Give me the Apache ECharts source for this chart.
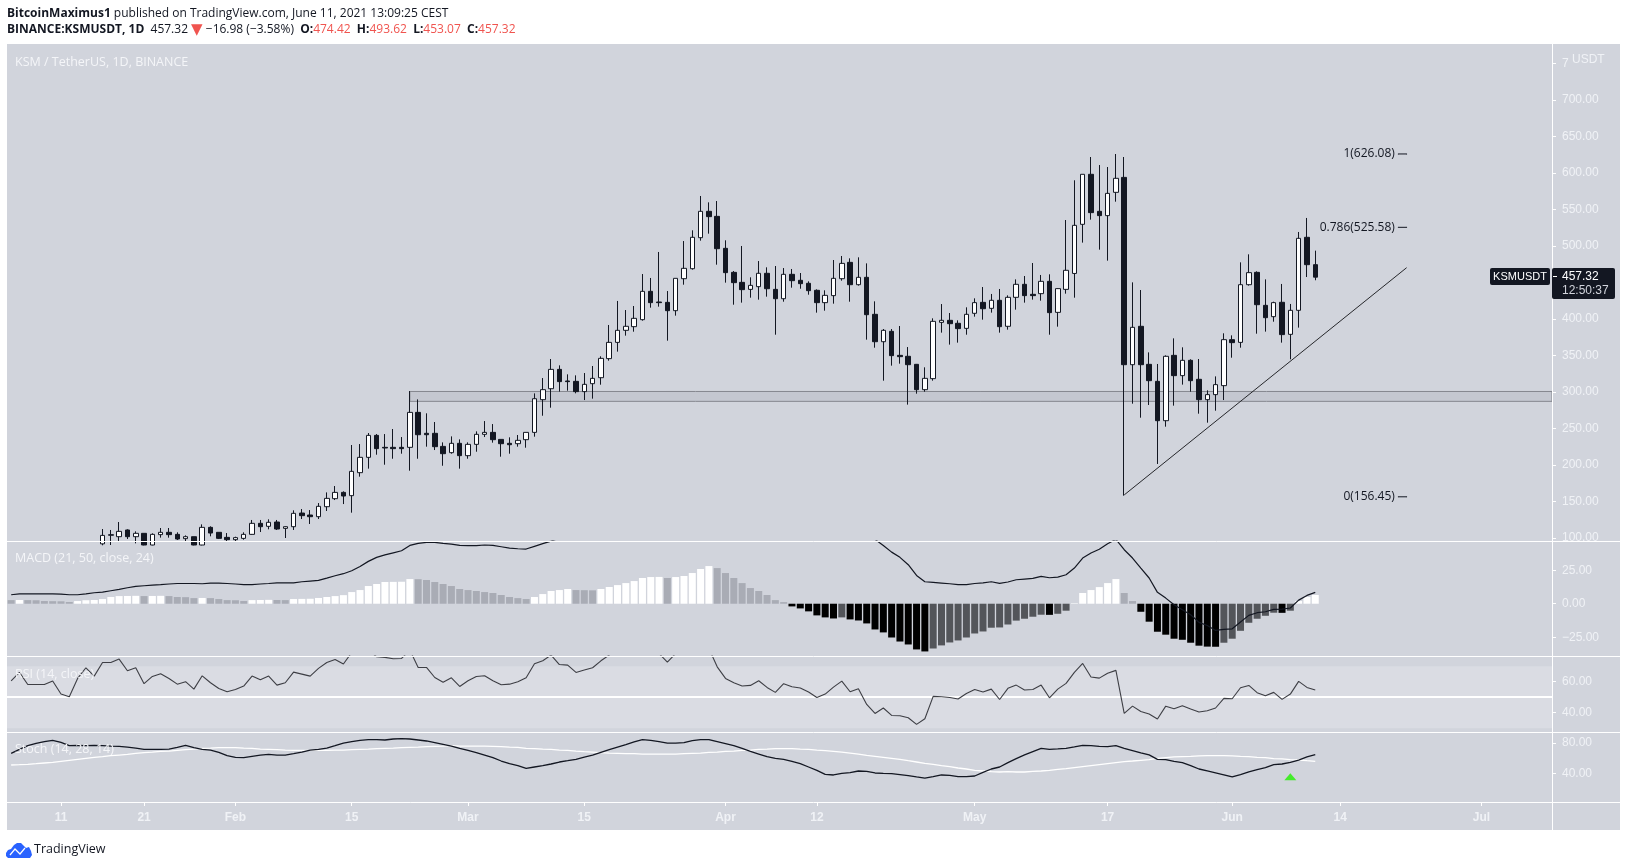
<!DOCTYPE html>
<html>
<head>
<meta charset="utf-8">
<title>KSMUSDT</title>
<script src="https://cdn.jsdelivr.net/npm/echarts@6/dist/echarts.min.js"></script>
<style>
html, body { margin: 0; padding: 0; background: #fff; }
#chart { width: 1627px; height: 867px; }
</style>
</head>
<body>
<div id="chart"></div>
<script>
'use strict';

// first day on the time scale, and how many days it shows
var startDay = '2021-01-05';
var dayCount = 186;

var tickDays = [6, 16, 27, 41, 55, 69, 86, 97, 116, 132, 147, 160, 177];
var tickNames = ['11', '21', 'Feb', '15', 'Mar', '15', 'Apr', '12', 'May', '17', 'Jun', '14', 'Jul'];

var priceTicks = [100, 150, 200, 250, 300, 350, 400, 450, 500, 550, 600, 650, 700, 750];
var macdTicks = [-25, 0, 25];
var rsiTicks = [40, 60];
var stochTicks = [40, 80];

// candles before this day sit under the bottom of the price pane
var firstCandleDay = 11;

var opens = [
    92, 103.7, 101.8, 111, 101.8, 106.4, 90.4, 104.6, 107.8, 105,
    99.1, 101.8, 90.4, 114.6, 107.8, 100.9, 97.7, 99.5, 105, 120.1,
    116, 121.9, 113.2, 115.5, 134.2, 131.5, 129.2, 142.9, 153.9, 162.5,
    158, 189.5, 210.5, 240.6, 224.2, 224.2, 224.2, 224.2, 272.1, 243.4,
    243.4, 225.5, 216.9, 229.7, 212.8, 228.3, 242, 244.7, 235.1, 229.7,
    229.2, 234.7, 244.7, 289.5, 304.5, 331, 315.1, 314.6, 300.5, 311.4,
    319.6, 345.7, 368, 384.5, 389.5, 399.1, 437.9, 423.3, 422.8, 411.4,
    455.2, 468.9, 511.4, 547.5, 540.6, 496.8, 463.9, 450.2, 440.6, 444.3,
    462.6, 440.6, 427.8, 461.2, 453, 448.9, 439.3, 422.4, 432, 455.2,
    477.6, 447, 457.1, 406.4, 368.9, 383.1, 350.2, 348.9, 337.9, 303.2,
    318.3, 395.4, 398.2, 394.1, 387.2, 407.8, 422.8, 414.6, 425.6, 390,
    429.7, 447.5, 433.8, 434.7, 451.6, 409.1, 440.6, 462.4, 529.7, 598.2,
    547.5, 541.6, 573.5, 594, 337.4, 390, 337.9, 314.6, 260.7, 350.2,
    322.4, 343.4, 317.4, 289.5, 296.4, 308.7, 371.7, 368, 447, 463.9,
    418.7, 403.2, 422.9, 379, 411.9, 511.9, 474.42
];
var closes = [
    103.6, 104.6, 109.1, 101.8, 106.4, 90.4, 105, 107.8, 104.6, 98.6,
    101.8, 90.4, 114.6, 106.8, 99.5, 97.7, 100.5, 105, 120.1, 115.5,
    121.5, 112.3, 115.5, 133.8, 130.6, 129.2, 143.4, 154.3, 162.5, 157.5,
    191.3, 210.5, 240.6, 222.4, 223.3, 222.4, 222.4, 272.1, 241.5, 241.5,
    225.1, 215.5, 229.7, 212.8, 228.3, 242, 244.7, 234.7, 229.2, 227.8,
    233.8, 244.7, 290.8, 303.2, 331, 314.2, 314.2, 300.5, 310.5, 318.7,
    346.1, 368, 384.5, 390, 400.9, 437.9, 422.4, 422.4, 411.4, 455.7,
    469.4, 511.9, 547.5, 540.2, 496.3, 463.5, 449.8, 440.2, 446.1, 462.6,
    441.5, 427.8, 461.2, 452.5, 448.4, 438.8, 422.4, 432.4, 455.7, 476.2,
    447, 457.1, 405.9, 368.9, 384.5, 349.8, 348.4, 337.4, 303.2, 318.7,
    396.8, 398.2, 393.6, 386.8, 406.4, 422.4, 414.1, 425.6, 389.5, 429.7,
    447.5, 432, 432, 451.6, 408.7, 441.6, 466.7, 528.3, 598.2, 545.7,
    541.6, 572.1, 592.7, 337.4, 388.6, 337.4, 315.5, 260.7, 348.9, 322.4,
    343.4, 315.5, 289.5, 296.4, 310.1, 371.7, 367.6, 447, 463.5, 419.6,
    401.8, 422.4, 378.6, 411.9, 510.5, 474.4, 457.32
];
var lows = [
    90, 90.4, 96, 98.6, 92.7, 90, 90, 100.5, 100.5, 97.3,
    95, 90, 90, 102.3, 98.6, 95, 95, 97.7, 104.6, 108.2,
    111.9, 111, 100, 111, 126, 119.2, 126, 137, 152, 146.5,
    134.7, 184, 195, 214.1, 200.4, 208.6, 215.5, 192.2, 208.6, 225.1,
    220.5, 199, 215.5, 195, 208.6, 218.2, 238.3, 230.6, 211.4, 215.5,
    225.1, 223.7, 238.8, 267.5, 278.5, 300.5, 301.8, 298.2, 289, 290.9,
    310, 342.9, 355.3, 377.2, 382.6, 397.7, 415.5, 416.9, 370.3, 404.6,
    447, 467.6, 507.3, 516.9, 474.4, 449.8, 419.6, 422.4, 429.2, 426.5,
    430.6, 378.5, 423.7, 442.9, 441.5, 433.3, 408.7, 411.4, 421, 452.5,
    423.7, 445.7, 371.7, 360.7, 315.5, 336.1, 338.8, 282.7, 297.7, 300.4,
    315.5, 381.3, 364.9, 367.6, 378.5, 403.2, 399.1, 408.7, 381.3, 385.4,
    412.8, 422.4, 426.5, 425.1, 378.5, 389.5, 434.7, 429.2, 504.6, 536.1,
    495, 479.9, 560.7, 158, 284, 264.8, 282.2, 201.4, 252.5, 281.3,
    310.1, 300.4, 270.3, 258, 274.4, 289, 347, 360.7, 445.7, 379.9,
    382.7, 396.3, 367.6, 344.8, 388.2, 457.5, 453.07
];
var highs = [
    112.3, 111, 121.9, 111.9, 109.1, 106.4, 106.4, 113.7, 113.7, 107.8,
    103.6, 101.8, 118.7, 116, 107.8, 106.8, 101.8, 107.8, 124.7, 124.7,
    125.6, 124.7, 116, 137.9, 139.7, 138.3, 147.9, 162.5, 171.2, 163.9,
    227.4, 228.7, 243.8, 242.4, 242.4, 249.3, 238.3, 301.3, 289.9, 270.8,
    258.9, 231, 239.2, 235.1, 231, 246.1, 260.2, 256.1, 235.1, 237.9,
    241.1, 244.7, 298.1, 319.1, 345.2, 336.5, 324.2, 322.8, 326, 335.6,
    348.9, 391.8, 424.7, 412.3, 417.8, 461.6, 456.2, 491.8, 438.3, 455.7,
    506.8, 521.5, 568.5, 559.8, 561.6, 507.8, 465.7, 500, 457.1, 479.4,
    470.8, 472.6, 469.8, 468.5, 463, 451.6, 440.6, 439.3, 480.8, 486.3,
    483.1, 484.5, 476.2, 424.2, 386.3, 386.3, 390.4, 361.6, 338.4, 333.8,
    400.9, 420.5, 408.2, 398.2, 416, 428.3, 443.8, 434.3, 441.1, 432.4,
    454.3, 458.9, 476.7, 460.3, 461.2, 442, 535.6, 590, 598.2, 621.9,
    610.9, 608.2, 626, 621.9, 450.2, 439.7, 354.3, 338.4, 350.2, 373.5,
    361.2, 344.8, 345.2, 302.3, 321.4, 380.4, 377.6, 477.6, 488.6, 465.3,
    454.3, 423.7, 448, 420.6, 519.2, 538.4, 493.62
];

var macdHist = [
    2.7, 2.8, 2.7, 2.6, 2.0, 1.9, 1.8, 1.3, 2.0, 2.6,
    2.8, 3.5, 5.0, 5.7, 5.8, 5.9, 5.7, 5.8, 5.9, 5.7,
    5.0, 4.9, 4.2, 4.3, 4.2, 3.5, 2.7, 2.6, 2.0, 2.7,
    2.8, 2.9, 2.8, 2.7, 3.5, 3.6, 3.7, 4.3, 5.0, 5.7,
    6.4, 8.7, 10.2, 13.2, 14.7, 16.2, 16.3, 16.4, 18.4, 18.3,
    17.7, 16.2, 14.7, 13.2, 11, 10.2, 9.5, 8.7, 8, 6.5,
    5, 4.2, 3.5, 5, 7.2, 9.5, 10.2, 11, 10.2, 10.1,
    10, 11, 12.5, 13.9, 15.4, 16.9, 19.2, 19.9, 20, 19.2,
    19.9, 20.7, 22.9, 25.9, 28.1, 26.6, 22.9, 19.2, 15.4, 11.7,
    9.5, 6.5, 2.7, 1.2, -2, -3.5, -5.7, -8.7, -10.2, -11,
    -10.2, -11.7, -12.5, -14.7, -19.2, -21.4, -25.2, -28.2, -30.4, -34.1,
    -35.6, -33.4, -31.1, -28.9, -27.4, -25.2, -22.2, -20.7, -17.9, -17.7,
    -15.5, -12.6, -11.2, -9.7, -8.2, -8.3, -7.5, -5.2, 0.4, 8,
    10.2, 12.4, 15.4, 18.4, 8, 2, -6, -13.4, -20.9, -23.1,
    -26.1, -26.9, -29.1, -31.3, -32, -32.1, -29.1, -26.1, -20.2, -14.2,
    -11.2, -9, -6.7, -6.8, -5.2, 2, 5, 6.5
];
// the stretch from about day 66 to day 104 runs off the top of the pane
var macdLine = [
    6.7, 7.4, 7.4, 7.4, 7.4, 7.4, 7.2, 6.7, 6.7, 7.4,
    8.2, 8.7, 9.7, 10.7, 11.9, 12.9, 13.4, 13.9, 14.2, 14.7,
    15.1, 15.1, 15.1, 14.9, 15.4, 15.4, 15.1, 14.7, 14.2, 14.2,
    14.7, 15.1, 15.6, 15.6, 15.6, 16.4, 16.9, 17.4, 19.1, 20.9,
    22.4, 24.6, 27.8, 31.6, 34.6, 36.5, 38, 39.5, 43.5, 45,
    45.8, 45.8, 45, 44.5, 43.5, 43.3, 43.3, 43.8, 43.5, 42.5,
    41.5, 41, 40.8, 42.8, 44.8, 46.7, 49, 51, 52, 53,
    54, 56, 58, 61, 64, 67, 71, 75, 79, 83,
    87, 92, 97, 103, 109, 112, 112, 110, 107, 104,
    100, 97, 94, 90, 86, 82, 78, 73, 70, 67,
    64, 60, 56, 52, 48, 43.5, 38.5, 34.6, 29.1, 21.1,
    16.4, 15.9, 15.4, 14.9, 14.2, 14.2, 15.1, 15.6, 16.4, 15.2,
    16.2, 17.9, 18.4, 18.9, 20.4, 19.4, 19.9, 21.6, 26.6, 34.1,
    37.8, 40.6, 44.8, 48, 40.3, 34.1, 26.6, 19.2, 8.5, 4.2,
    -0.7, -4.5, -8.2, -13.9, -16.2, -19.9, -19.2, -18.7, -13.7, -8.7,
    -6.7, -6, -4.2, -4, -3.2, 2.7, 6.2, 8.5
];

var rsiLine = [
    60.6, 66, 58.2, 58.2, 58.2, 60.4, 52, 50.3, 62.1, 69,
    63.6, 72.4, 72.4, 74.6, 67.1, 69, 58.7, 63.4, 65.1, 62.1,
    58.4, 60, 55.2, 63.8, 59.3, 55.6, 53.5, 55, 57.2, 63.6,
    61.2, 63.6, 57.8, 59.3, 66.2, 64.9, 63.6, 68.6, 72.4, 74.4,
    71.4, 78.9, 81.5, 80.4, 76.1, 75.7, 74.8, 75, 80.4, 69.2,
    69.2, 62.7, 59.7, 62.5, 56.9, 60.6, 63.4, 63.8, 60.6, 58,
    58.4, 60, 62.5, 71.6, 73.5, 77.2, 71.1, 70.7, 66, 67.5,
    69, 73.5, 77.2, 81.5, 82.5, 83.2, 84.7, 82.5, 78.2, 72.6,
    78.2, 81.5, 83.6, 85.8, 81.5, 69.6, 62.1, 59.3, 57.2, 57.6,
    60.6, 56.3, 53.1, 58.7, 56.7, 55.9, 53.3, 49.8, 52, 56.5,
    60.4, 53.5, 55.4, 45.3, 39.5, 43, 38.2, 38, 36.7, 32.4,
    36.1, 50.5, 50.3, 49.8, 48.8, 52.4, 55, 53.3, 55.2, 48.5,
    55.7, 57.8, 54.6, 55, 57.8, 49.6, 55.2, 58.9, 66, 71.8,
    63, 62.3, 65.5, 67.3, 39.5, 44.2, 40.8, 39.1, 35.9, 44.2,
    42.5, 44.5, 42.3, 40.4, 41.2, 43, 49.2, 49, 56.1, 57.6,
    52.9, 50.9, 53.1, 48.6, 52, 60.2, 56.3, 54.6
];

var stochK = [
    66.5, 71.7, 76.5, 79.5, 81.7, 83.4, 80.8, 76.5, 76.9, 76.5,
    76.9, 76.5, 76, 75.6, 74.7, 73.4, 71.7, 71.7, 71.7, 72.1,
    74.3, 76.9, 73.9, 71.7, 70.8, 67.8, 63.4, 61.3, 60.8, 62.6,
    64.3, 65.2, 64.3, 64.3, 66.1, 68.2, 70.8, 71.7, 73.4, 76.5,
    79.9, 81.7, 83.4, 84.3, 84.3, 83.9, 85.2, 85.6, 85.2, 83.9,
    82.6, 80.4, 78.2, 76, 73, 70.4, 67.4, 64.3, 60.8, 56.5,
    53, 50.4, 46.9, 48.7, 50.4, 52.6, 55.2, 56.9, 58.7, 61.7,
    64.3, 67.8, 71.3, 74.7, 77.8, 81.3, 84.3, 83.4, 81.7, 79.9,
    79.9, 80.4, 83, 84.3, 84.3, 81.7, 79.1, 76.5, 73, 69.1,
    65.6, 62.1, 60, 58.7, 56.1, 53, 48.7, 44.3, 39.1, 38.3,
    40.4, 41.3, 43.5, 43, 40.9, 40.4, 40, 38.7, 37.4, 35.7,
    34.3, 36.1, 38.3, 37.8, 36.1, 36.1, 37, 41.7, 46.1, 48.7,
    54.4, 59.6, 64.4, 68.7, 73, 71.7, 72.2, 73, 74.8, 77,
    76.5, 75.7, 75.2, 76.5, 73, 70, 67, 64.4, 58.7, 58.3,
    56.1, 54.4, 50.5, 46.1, 43.5, 40.9, 38.3, 35.7, 38.7, 42.2,
    45.3, 47.9, 51.8, 52.6, 54.8, 57.8, 61.8, 64.8
];
var stochD = [
    51.3, 51.7, 52.2, 53, 53.9, 54.8, 56.1, 57.4, 58.7, 60,
    61.3, 62.1, 63.4, 64.3, 65.2, 66.5, 67.4, 68.2, 69.1, 69.5,
    70.4, 71.3, 72.1, 73, 73.4, 73.9, 73.9, 73.9, 73.4, 73,
    72.1, 71.7, 71.3, 70.8, 70.4, 70.4, 70.4, 70.4, 70.4, 70.8,
    70.8, 71.3, 71.7, 72.1, 72.6, 73, 73.4, 73.9, 74.3, 74.7,
    75.2, 75.6, 76, 76.5, 76, 76, 76, 76, 75.6, 75.2,
    74.7, 74.3, 73, 72.6, 72.1, 71.7, 70.8, 70.4, 69.5, 68.7,
    68.2, 67.4, 66.9, 66.5, 66.1, 66.1, 65.6, 65.6, 65.6, 65.6,
    65.6, 66.1, 66.5, 66.9, 67.8, 68.2, 69.1, 69.5, 70.4, 70.8,
    71.7, 72.1, 72.6, 72.6, 72.6, 72.1, 71.7, 70.8, 70, 69.1,
    68.2, 66.9, 65.6, 63.9, 62.6, 61.3, 60, 58.7, 56.9, 55.2,
    53.5, 52.2, 50.4, 49.1, 47.4, 46.1, 44.3, 43.5, 42.6, 42.2,
    42.6, 42.2, 42.2, 43.1, 43.5, 44.4, 45.7, 46.6, 47.9, 49.2,
    50.5, 51.8, 53.1, 54.4, 55.7, 56.5, 57.4, 58.3, 60, 60.9,
    61.8, 62.2, 62.6, 63.1, 63.5, 63.5, 63.5, 63.1, 62.6, 62.2,
    61.3, 60.9, 59.6, 59.2, 58.3, 57.8, 56.9, 56.1
];
// the little green arrow under the stoch lines: [day, level]
var stochSignal = [[154, 36]];

// resistance band and drawn lines on the price pane
var bandStartDay = 48;
var bandTop = 300.7;
var bandBottom = 287.2;
var trendLine = [[134, 159], [168, 470.3]];
var fibNames = ['1(626.08)', '0.786(525.58)', '0(156.45)'];
var fibLevels = [626.08, 525.58, 156.45];
var fibDays = [167, 168];

var INK = '#131722';
var PANE_BG = '#d1d4dc';
var SOFT = '#f0f2f6';
var AXIS_FONT = '"Liberation Sans", sans-serif';
var TEXT_FONT = '"Open Sans", sans-serif';

// pane layout, pixels
var PLOT_LEFT = 7;
var PLOT_RIGHT = 1552;
var OUTER_RIGHT = 1620;
var panes = [
    { top: 44, bottom: 541, min: 95.9, max: 776.7, ticks: priceTicks },
    { top: 541, bottom: 656, min: -39, max: 46.8, ticks: macdTicks },
    { top: 656, bottom: 732, min: 27.5, max: 76.6, ticks: rsiTicks },
    { top: 732, bottom: 802, min: 3.1, max: 94.3, ticks: stochTicks }
];

function buildCategories() {
    var list = [];
    var d = new Date(startDay + 'T00:00:00Z');
    for (var i = 0; i < dayCount; i++) {
        list.push(d.toISOString().slice(0, 10));
        d.setUTCDate(d.getUTCDate() + 1);
    }
    return list;
}

function buildCandles() {
    var rows = [];
    for (var i = 0; i < firstCandleDay; i++) {
        rows.push(['-', '-', '-', '-']);
    }
    for (var j = 0; j < opens.length; j++) {
        rows.push([opens[j], closes[j], lows[j], highs[j]]);
    }
    return rows;
}

function histColor(params) {
    var v = macdHist[params.dataIndex];
    var prev = params.dataIndex > 0 ? macdHist[params.dataIndex - 1] : Infinity;
    if (v >= 0) {
        return v >= prev ? '#ffffff' : '#a9acb5';
    }
    return v < prev ? '#000000' : '#53555a';
}

function axisText(value) {
    if (value === 750) {
        return '7';
    }
    return value.toFixed(2).replace('-', '\u2212');
}

var categories = buildCategories();

var grids = panes.map(function (p) {
    return { left: PLOT_LEFT, width: PLOT_RIGHT - PLOT_LEFT, top: p.top, height: p.bottom - p.top };
});

var xAxes = panes.map(function (p, i) {
    var last = i === panes.length - 1;
    return {
        type: 'category',
        gridIndex: i,
        data: categories,
        boundaryGap: true,
        axisLine: { show: false },
        splitLine: { show: false },
        axisTick: {
            show: last,
            alignWithLabel: true,
            length: 4,
            lineStyle: { color: '#ffffff', width: 1 },
            interval: function (index) { return tickDays.indexOf(index) >= 0; }
        },
        axisLabel: {
            show: last,
            interval: function (index) { return tickDays.indexOf(index) >= 0; },
            formatter: function (value, index) { return tickNames[tickDays.indexOf(index)] || ''; },
            color: SOFT,
            fontFamily: AXIS_FONT,
            fontSize: 12,
            fontWeight: 'bold',
            margin: 10
        }
    };
});

var yAxes = panes.map(function (p, i) {
    return {
        type: 'value',
        gridIndex: i,
        position: 'right',
        min: p.min,
        max: p.max,
        scale: true,
        axisLine: { show: false },
        splitLine: { show: false },
        axisTick: {
            show: true,
            length: 4,
            lineStyle: { color: '#ffffff', width: 1 },
            customValues: p.ticks
        },
        axisLabel: {
            customValues: p.ticks,
            formatter: axisText,
            color: SOFT,
            fontFamily: AXIS_FONT,
            fontSize: 12,
            margin: 10
        }
    };
});

var series = [
    {
        type: 'candlestick',
        xAxisIndex: 0,
        yAxisIndex: 0,
        data: buildCandles(),
        barWidth: 5,
        clip: true,
        itemStyle: {
            color: '#ffffff',
            color0: INK,
            borderColor: INK,
            borderColor0: INK,
            borderWidth: 1
        },
        markArea: {
            silent: true,
            itemStyle: {
                color: 'rgba(120,123,134,0.14)',
                borderColor: '#85878f',
                borderWidth: 1
            },
            data: [[
                { xAxis: categories[bandStartDay], yAxis: bandTop },
                { yAxis: bandBottom }
            ]]
        }
    },
    {
        type: 'line',
        xAxisIndex: 0,
        yAxisIndex: 0,
        data: trendLine,
        symbol: 'none',
        lineStyle: { color: '#26272b', width: 1 }
    }
];

fibLevels.forEach(function (level, i) {
    series.push({
        type: 'line',
        xAxisIndex: 0,
        yAxisIndex: 0,
        symbol: 'circle',
        symbolSize: 1,
        showSymbol: true,
        itemStyle: { color: INK },
        lineStyle: { color: INK, width: 1 },
        data: [
            {
                value: [fibDays[0], level],
                label: {
                    show: true,
                    position: 'left',
                    distance: 3,
                    formatter: fibNames[i],
                    color: INK,
                    fontFamily: TEXT_FONT,
                    fontSize: 12
                }
            },
            { value: [fibDays[1], level] }
        ]
    });
});

series.push(
    {
        type: 'bar',
        xAxisIndex: 1,
        yAxisIndex: 1,
        data: macdHist,
        barWidth: 7,
        itemStyle: { color: histColor }
    },
    {
        type: 'line',
        xAxisIndex: 1,
        yAxisIndex: 1,
        data: macdLine,
        symbol: 'none',
        clip: true,
        lineStyle: { color: INK, width: 1.2 }
    },
    {
        type: 'line',
        xAxisIndex: 2,
        yAxisIndex: 2,
        data: rsiLine,
        symbol: 'none',
        clip: true,
        lineStyle: { color: '#3d3e44', width: 1.1 },
        markArea: {
            silent: true,
            z: 0,
            itemStyle: { color: 'rgba(255,255,255,0.2)' },
            data: [[{ yAxis: 70 }, { yAxis: 30 }]]
        },
        markLine: {
            silent: true,
            z: 1,
            symbol: 'none',
            label: { show: false },
            lineStyle: { color: '#ffffff', width: 2, type: 'solid' },
            data: [{ yAxis: 50 }]
        }
    },
    {
        type: 'line',
        xAxisIndex: 3,
        yAxisIndex: 3,
        data: stochD,
        symbol: 'none',
        lineStyle: { color: '#ffffff', width: 1.3 }
    },
    {
        type: 'line',
        xAxisIndex: 3,
        yAxisIndex: 3,
        data: stochK,
        symbol: 'none',
        lineStyle: { color: INK, width: 1.3 }
    },
    {
        type: 'scatter',
        xAxisIndex: 3,
        yAxisIndex: 3,
        data: stochSignal,
        symbol: 'triangle',
        symbolSize: [12, 7],
        itemStyle: { color: '#22f000' }
    }
);

function paneTitle(text, y) {
    return {
        type: 'text',
        z: 50,
        style: {
            x: 15,
            y: y,
            text: text,
            fill: '#f4f5f8',
            font: '12.5px ' + TEXT_FONT,
            verticalAlign: 'middle'
        }
    };
}

function rule(x1, y1, x2, y2) {
    return {
        type: 'line',
        z: 40,
        shape: { x1: x1, y1: y1, x2: x2, y2: y2 },
        style: { stroke: '#ffffff', lineWidth: 1 }
    };
}

var RED = '#f0544f';
var graphics = [
    {
        type: 'rect',
        z: -10,
        shape: { x: PLOT_LEFT, y: 44, width: OUTER_RIGHT - PLOT_LEFT, height: 786 },
        style: { fill: PANE_BG }
    },
    rule(PLOT_LEFT, 541.5, OUTER_RIGHT, 541.5),
    rule(PLOT_LEFT, 656.5, OUTER_RIGHT, 656.5),
    rule(PLOT_LEFT, 732.5, OUTER_RIGHT, 732.5),
    rule(PLOT_LEFT, 802.5, OUTER_RIGHT, 802.5),
    rule(PLOT_RIGHT + 0.5, 44, PLOT_RIGHT + 0.5, 830),
    {
        type: 'text',
        z: 50,
        style: {
            x: 7,
            y: 13.5,
            verticalAlign: 'middle',
            text: '{b|BitcoinMaximus1} published on TradingView.com, June 11, 2021 13:09:25 CEST',
            font: '12px ' + TEXT_FONT,
            fill: INK,
            rich: { b: { fontWeight: 'bold', fontSize: 12, fontFamily: 'Open Sans', fill: INK } }
        }
    },
    {
        type: 'text',
        z: 50,
        style: {
            x: 7,
            y: 30,
            verticalAlign: 'middle',
            text: '{b|BINANCE:KSMUSDT, 1D}  457.32 {t|\u25BC} \u221216.98 (\u22123.58%)  {b|O:}{r|474.42}  {b|H:}{r|493.62}  {b|L:}{r|453.07}  {b|C:}{r|457.32}',
            font: '12px ' + TEXT_FONT,
            fill: INK,
            rich: {
                b: { fontWeight: 'bold', fontSize: 12, fontFamily: 'Open Sans', fill: INK },
                r: { fontSize: 12, fontFamily: 'Open Sans', fill: RED },
                t: { fontSize: 15, fontFamily: 'DejaVu Sans', fill: RED }
            }
        }
    },
    paneTitle('KSM / TetherUS, 1D, BINANCE', 62.5),
    paneTitle('MACD (21, 50, close, 24)', 558.5),
    paneTitle('RSI (14, close)', 674),
    paneTitle('Stoch (14, 28, 14)', 749.5),
    {
        type: 'text',
        z: 50,
        style: { x: 1572, y: 60, verticalAlign: 'middle', text: 'USDT', fill: SOFT, font: '12px ' + AXIS_FONT }
    },
    {
        type: 'rect',
        z: 60,
        shape: { x: 1490, y: 268, width: 60, height: 17, r: 2 },
        style: { fill: INK }
    },
    {
        type: 'text',
        z: 61,
        style: { x: 1520, y: 276.5, align: 'center', verticalAlign: 'middle', text: 'KSMUSDT', fill: '#ffffff', font: '11px ' + AXIS_FONT }
    },
    {
        type: 'rect',
        z: 60,
        shape: { x: 1552, y: 268, width: 63, height: 31, r: 2 },
        style: { fill: INK }
    },
    {
        type: 'line',
        z: 61,
        shape: { x1: 1553, y1: 276.5, x2: 1557, y2: 276.5 },
        style: { stroke: '#ffffff', lineWidth: 1 }
    },
    {
        type: 'text',
        z: 61,
        style: { x: 1562, y: 276.5, verticalAlign: 'middle', text: '457.32', fill: '#ffffff', font: '12px ' + AXIS_FONT }
    },
    {
        type: 'text',
        z: 61,
        style: { x: 1562, y: 290.5, verticalAlign: 'middle', text: '12:50:37', fill: '#d1d4dc', font: '12px ' + AXIS_FONT }
    },
    // TradingView cloud
    {
        type: 'polygon',
        z: 50,
        shape: {
            points: [[8, 858], [6, 856], [6, 853], [8, 850], [11, 849], [14, 845], [17, 843], [21, 843], [24, 846], [26, 848],
                [29, 847], [31, 851], [32, 855], [30, 858]]
        },
        style: { fill: '#2962ff' }
    },
    {
        type: 'polyline',
        z: 51,
        shape: { points: [[10, 855], [15, 849], [20, 854], [25, 848]] },
        style: { stroke: '#ffffff', lineWidth: 1.2, fill: 'none' }
    },
    {
        type: 'text',
        z: 50,
        style: { x: 34, y: 849.5, verticalAlign: 'middle', text: 'TradingView', fill: INK, font: '12.5px ' + TEXT_FONT }
    }
];

var chart = echarts.init(document.getElementById('chart'));
chart.setOption({
    animation: false,
    backgroundColor: '#ffffff',
    grid: grids,
    xAxis: xAxes,
    yAxis: yAxes,
    series: series,
    graphic: graphics
});
</script>
</body>
</html>
